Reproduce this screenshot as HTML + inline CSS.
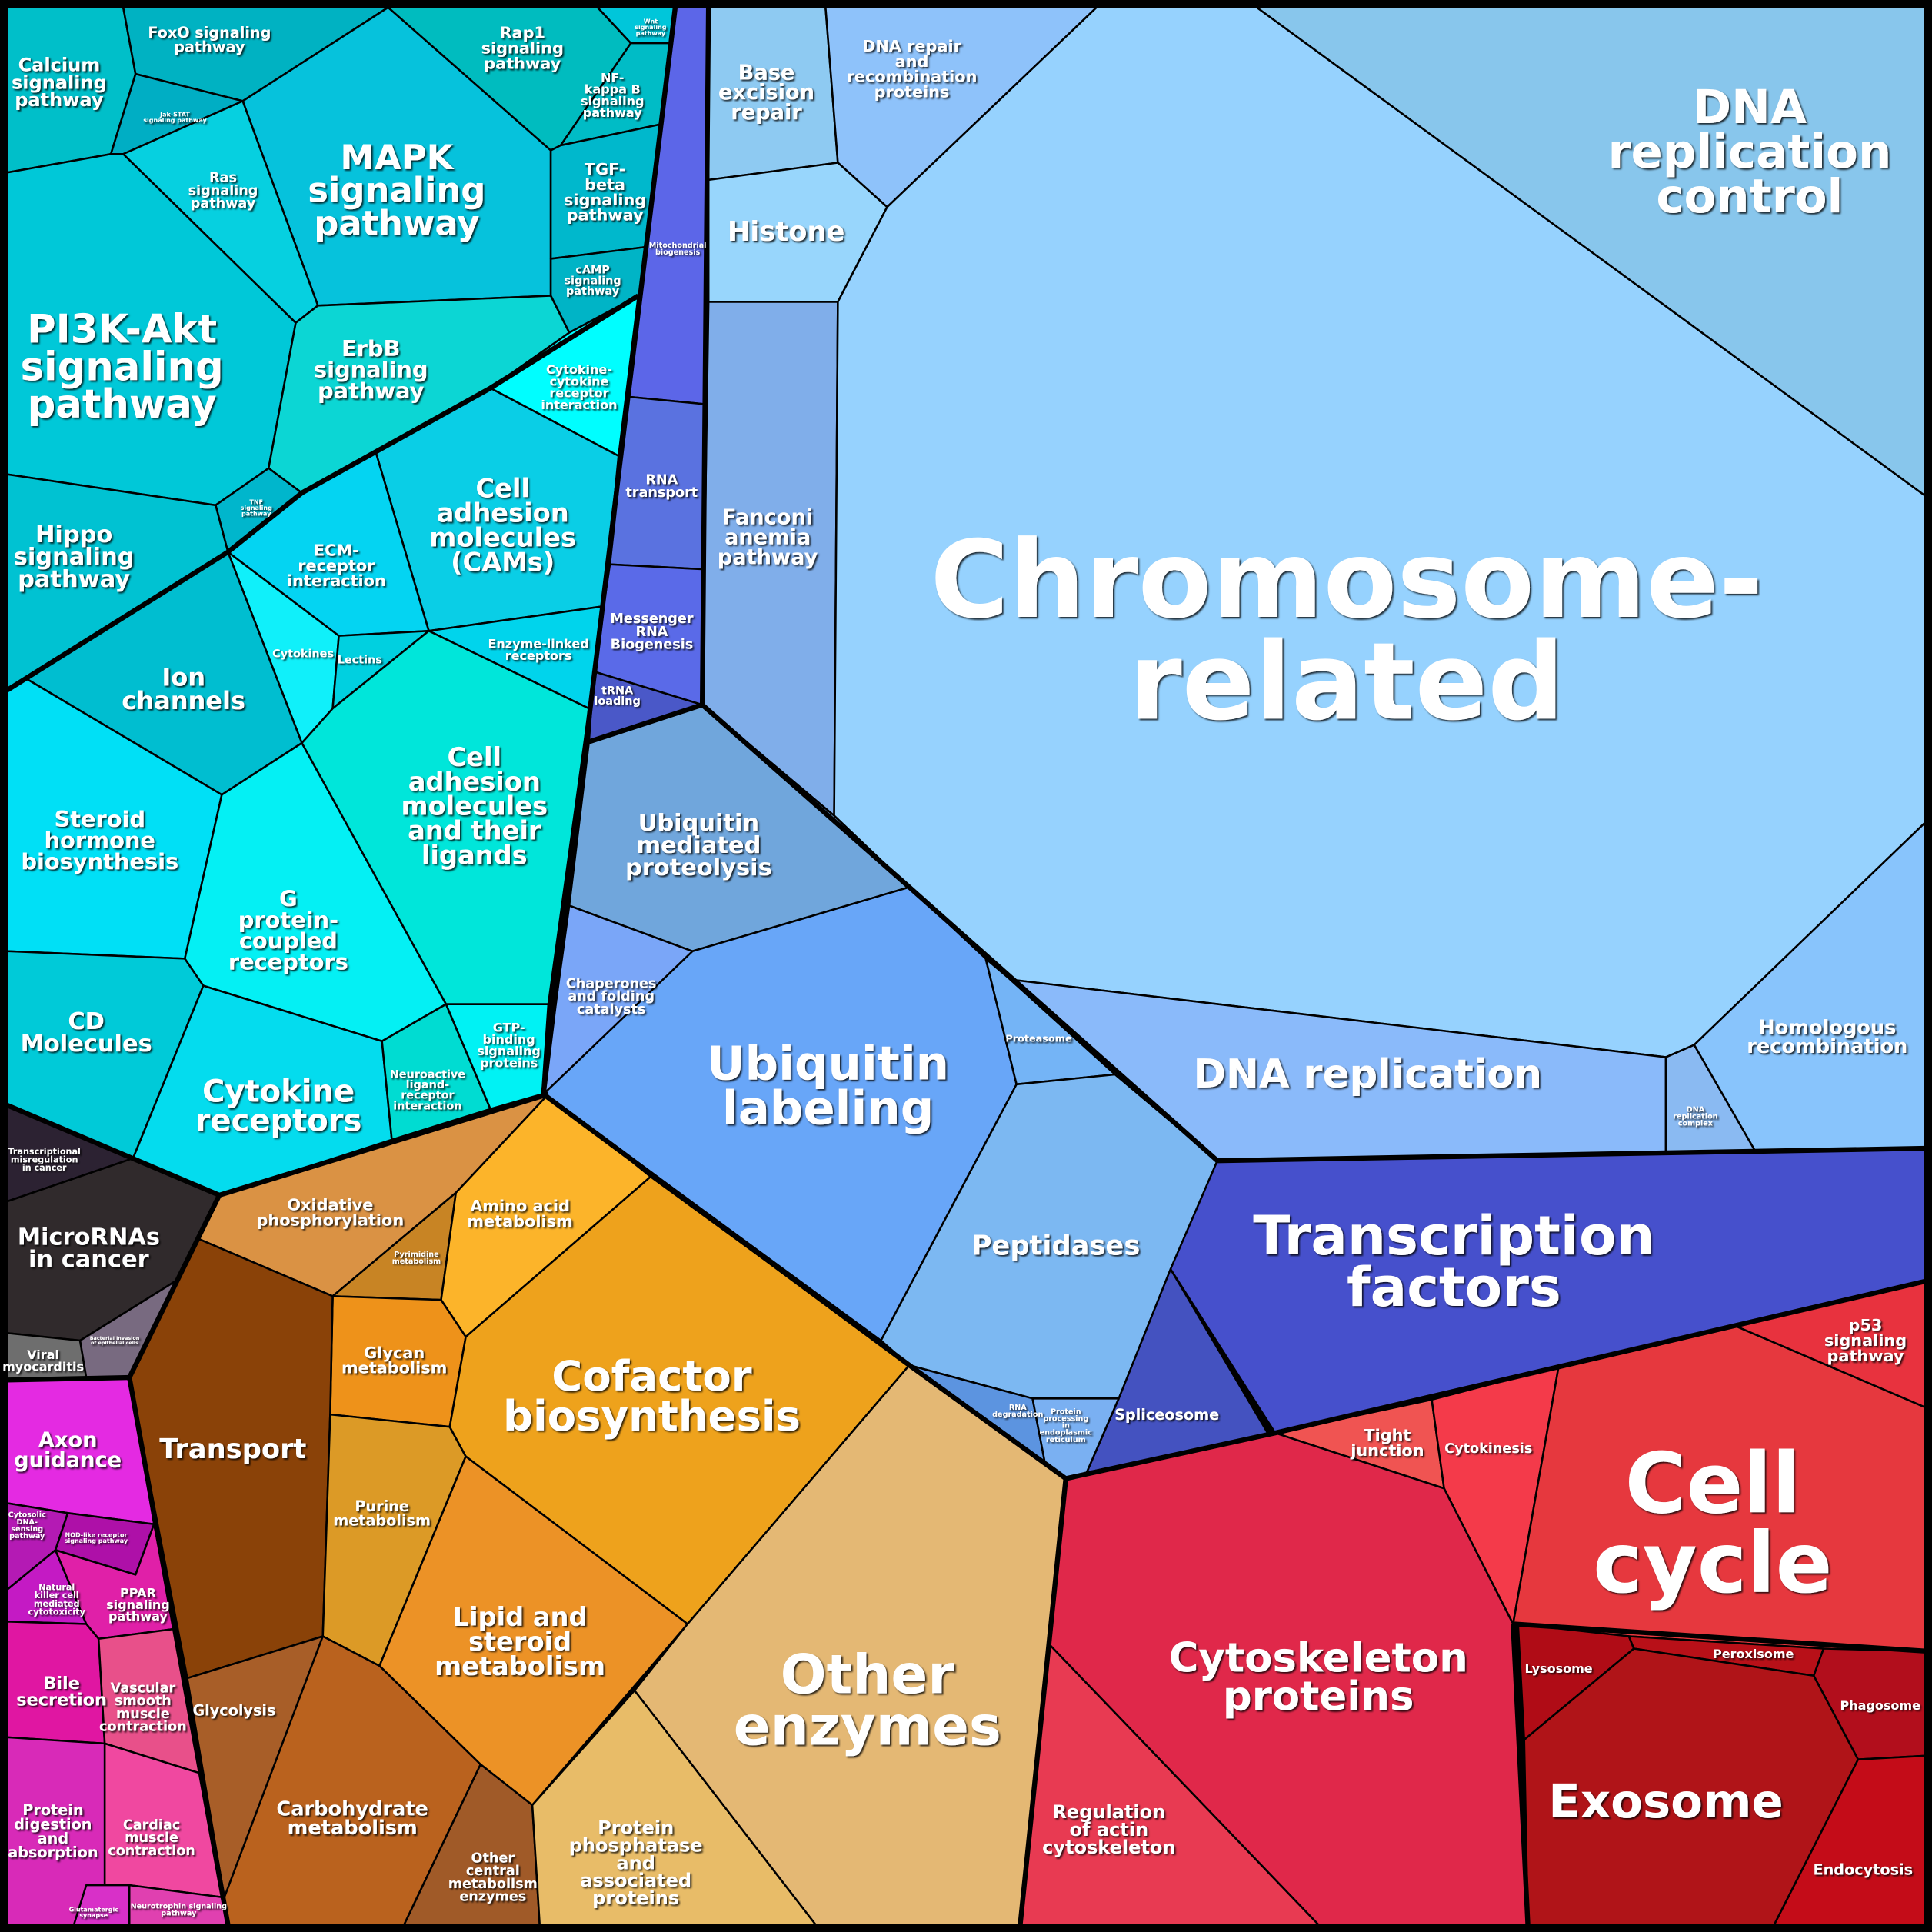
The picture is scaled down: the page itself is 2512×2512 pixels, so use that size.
<!DOCTYPE html>
<html><head><meta charset="utf-8">
<style>
html,body{margin:0;padding:0;background:#000;}
svg{display:block;}
text{font-family:"DejaVu Sans","Liberation Sans",sans-serif;font-weight:bold;fill:#fff;text-anchor:middle;dominant-baseline:central;}
</style></head>
<body>
<svg id="chart" width="2512" height="2512" viewBox="0 0 1568 1568" xmlns="http://www.w3.org/2000/svg">
<defs><filter id="sh" x="-20%" y="-20%" width="140%" height="140%"><feDropShadow dx="1.2" dy="1.2" stdDeviation="0.6" flood-color="#000" flood-opacity="0.8"/></filter></defs>
<rect x="0" y="0" width="1568" height="1568" fill="#000"/>
<g id="cells"></g>
<g id="thick"></g>
<g id="labels" filter="url(#sh)"></g>
</svg>
<script>
// cell names, colours and label texts (category data)
const cellNames = ["Calcium","FoxO","JAK-STAT","MAPK","Rap1","Wnt","NF-kB","TGF-beta","cAMP","Ras","PI3K-Akt","ErbB","Cytokine-cytokine","TNF","Hippo","CAMs","ECM","Cytokines","Lectins","Enzyme-linked","Ion channels","Steroid","CD","GPCR","CAM ligands","Cytokine receptors","Neuroactive","GTP-binding",
"Transcriptional misreg","MicroRNAs","Viral myocarditis","Bacterial",
"Axon","Cytosolic DNA","NOD","NK","PPAR","Bile","Vascular","Protein digestion","Cardiac","Glutamatergic","Neurotrophin",
"Oxidative","Pyrimidine","Amino acid","Glycan","Transport","Purine","Cofactor","Lipid","Glycolysis","Carbohydrate","Other central","Protein phosphatase","Other enzymes",
"Mito","RNA transport","mRNA","tRNA","Base excision","DNA repair","Histone","Fanconi","Chromosome","DNA rep control","Ubiq mediated","Chaperones","Ubiq labeling","Proteasome","Peptidases","RNA degradation","Protein processing","Spliceosome","DNA replication","DNA rep complex","Homologous","Transcription factors",
"p53","Tight junction","Cytokinesis","Cell cycle","Cytoskeleton","Reg actin","Lysosome","Peroxisome","Phagosome","Exosome","Endocytosis"];
const cellColors = ["#00bfc9","#00b2c2","#00aec4","#06c2dc","#00bcbf","#00c6da","#00bcc6","#00b8cc","#00b4c6","#06d0e0","#00c8d8","#0cd6d4","#00feff","#00b6cc","#00c2d2","#0acee6","#04d4f2","#10f0fa","#00d0e0","#00d4ec","#00bed0","#00e0f6","#00cad8","#04f0f4","#00e6da","#04dcee","#00dcd2","#00f2f4",
"#2c2232","#302a2c","#6e6e6e","#786a80",
"#e42ae2","#b41ab4","#ae10a8","#c41ac4","#e020a8","#e016a2","#e8508a","#d82ab8","#f048a0","#d830c8","#e040b0",
"#da9244","#c88424","#fcb42a","#ee921a","#8a4208","#dc9a26","#eea21c","#ec9226","#a85e28","#ba621e","#a05a28","#e8bc68","#e4b874",
"#5c66e8","#5a72e0","#5a6ae8","#4a58c8","#8ecaf2","#8ec2fa","#98d6fc","#80aeea","#96d2fe","#88c6ec","#70a6dc","#7aa6f8","#68a6f8","#74b4f6","#7cb8f2","#5c94e0","#7ab0f2","#4452c0","#8abafa","#8abaf2","#88c4fc","#4650cc",
"#e8323e","#f05452","#f43a4a","#e6383e","#e0284a","#e83a52","#b00c16","#b81018","#b20e1c","#b01418","#c40c18"];
const cellLabels = [["Calcium","signaling","pathway"],["FoxO signaling","pathway"],["Jak-STAT","signaling pathway"],["MAPK","signaling","pathway"],["Rap1","signaling","pathway"],["Wnt","signaling","pathway"],["NF-","kappa B","signaling","pathway"],["TGF-","beta","signaling","pathway"],["cAMP","signaling","pathway"],["Ras","signaling","pathway"],["PI3K-Akt","signaling","pathway"],["ErbB","signaling","pathway"],["Cytokine-","cytokine","receptor","interaction"],["TNF","signaling","pathway"],["Hippo","signaling","pathway"],["Cell","adhesion","molecules","(CAMs)"],["ECM-","receptor","interaction"],["Cytokines"],["Lectins"],["Enzyme-linked","receptors"],["Ion","channels"],["Steroid","hormone","biosynthesis"],["CD","Molecules"],["G","protein-","coupled","receptors"],["Cell","adhesion","molecules","and their","ligands"],["Cytokine","receptors"],["Neuroactive","ligand-","receptor","interaction"],["GTP-","binding","signaling","proteins"],
["Transcriptional","misregulation","in cancer"],["MicroRNAs","in cancer"],["Viral","myocarditis"],["Bacterial invasion","of epithelial cells"],
["Axon","guidance"],["Cytosolic","DNA-","sensing","pathway"],["NOD-like receptor","signaling pathway"],["Natural","killer cell","mediated","cytotoxicity"],["PPAR","signaling","pathway"],["Bile","secretion"],["Vascular","smooth","muscle","contraction"],["Protein","digestion","and","absorption"],["Cardiac","muscle","contraction"],["Glutamatergic","synapse"],["Neurotrophin signaling","pathway"],
["Oxidative","phosphorylation"],["Pyrimidine","metabolism"],["Amino acid","metabolism"],["Glycan","metabolism"],["Transport"],["Purine","metabolism"],["Cofactor","biosynthesis"],["Lipid and","steroid","metabolism"],["Glycolysis"],["Carbohydrate","metabolism"],["Other","central","metabolism","enzymes"],["Protein","phosphatase","and","associated","proteins"],["Other","enzymes"],
["Mitochondrial","biogenesis"],["RNA","transport"],["Messenger","RNA","Biogenesis"],["tRNA","loading"],["Base","excision","repair"],["DNA repair","and","recombination","proteins"],["Histone"],["Fanconi","anemia","pathway"],["Chromosome-","related"],["DNA","replication","control"],["Ubiquitin","mediated","proteolysis"],["Chaperones","and folding","catalysts"],["Ubiquitin","labeling"],["Proteasome"],["Peptidases"],["RNA","degradation"],["Protein","processing","in","endoplasmic","reticulum"],["Spliceosome"],["DNA replication"],["DNA","replication","complex"],["Homologous","recombination"],["Transcription","factors"],
["p53","signaling","pathway"],["Tight","junction"],["Cytokinesis"],["Cell","cycle"],["Cytoskeleton","proteins"],["Regulation","of actin","cytoskeleton"],["Lysosome"],["Peroxisome"],["Phagosome"],["Exosome"],["Endocytosis"]];
// layout geometry (Voronoi cells, label anchor + font size)
const geom = [
[[6,6],[100,6],[110,60],[90,125],[6,140]],[[100,6],[315,6],[197,82],[110,60]],[[110,60],[197,82],[100,125],[90,125]],[[197,82],[315,6],[447,122],[447,240],[258,248]],[[315,6],[485,6],[512,35],[455,118],[447,122]],[[485,6],[548,6],[545,35],[512,35]],[[512,35],[545,35],[540,100],[455,118]],[[447,122],[455,118],[540,100],[528,200],[447,210]],[[447,210],[528,200],[518,240],[462,270],[447,240]],[[100,125],[197,82],[258,248],[240,262]],[[6,140],[90,125],[100,125],[240,262],[218,380],[175,410],[6,385]],[[240,262],[258,248],[447,240],[462,270],[398,315],[245,400],[218,380]],[[398,315],[462,270],[518,240],[502,370]],[[175,410],[218,380],[245,400],[185,448]],[[6,385],[175,410],[185,448],[6,560]],[[305,367],[398,315],[502,370],[490,492],[348,512]],[[185,448],[245,400],[305,367],[348,512],[275,516]],[[185,448],[275,516],[270,575],[245,603]],[[275,516],[348,512],[270,575]],[[348,512],[490,492],[478,575]],[[20,550],[185,448],[245,603],[180,645]],[[6,560],[20,550],[180,645],[150,778],[6,772]],[[6,772],[150,778],[165,800],[108,940],[6,897]],[[180,645],[245,603],[362,815],[310,845],[165,800],[150,778]],[[245,603],[270,575],[348,512],[478,575],[445,815],[362,815]],[[165,800],[310,845],[318,925],[178,970],[108,940]],[[310,845],[362,815],[398,900],[318,925]],[[362,815],[445,815],[440,888],[398,900]],
[[6,897],[108,940],[6,975]],[[6,975],[108,940],[178,970],[150,1035],[65,1088],[6,1082]],[[6,1082],[65,1088],[70,1118],[6,1120]],[[65,1088],[150,1035],[105,1118],[70,1118]],
[[6,1120],[105,1118],[125,1237],[55,1228],[6,1220]],[[6,1220],[55,1228],[45,1258],[6,1290]],[[55,1228],[125,1237],[110,1278],[45,1258]],[[6,1290],[45,1258],[70,1318],[6,1316]],[[45,1258],[110,1278],[125,1237],[142,1322],[80,1330],[70,1318]],[[6,1316],[70,1318],[80,1330],[85,1415],[6,1410]],[[80,1330],[142,1322],[165,1440],[85,1415]],[[6,1410],[85,1415],[85,1530],[60,1562],[6,1562]],[[85,1415],[165,1440],[182,1540],[105,1530],[85,1530]],[[60,1562],[70,1530],[105,1530],[105,1562]],[[105,1530],[182,1540],[185,1562],[105,1562]],
[[178,970],[445,888],[370,968],[270,1052],[160,1005]],[[270,1052],[370,968],[358,1055]],[[370,968],[445,888],[528,955],[378,1085],[358,1055]],[[270,1052],[358,1055],[378,1085],[365,1158],[268,1148]],[[160,1005],[270,1052],[268,1148],[262,1328],[152,1362],[105,1118]],[[268,1148],[365,1158],[378,1182],[308,1352],[262,1328]],[[378,1085],[528,955],[738,1108],[558,1318],[378,1182],[365,1158]],[[378,1182],[558,1318],[432,1465],[390,1432],[308,1352]],[[152,1362],[262,1328],[185,1540],[182,1540]],[[262,1328],[308,1352],[390,1432],[328,1562],[185,1562],[182,1540]],[[390,1432],[432,1465],[438,1562],[328,1562]],[[432,1465],[515,1372],[662,1562],[438,1562]],[[558,1318],[738,1108],[865,1200],[828,1562],[662,1562],[515,1372]],
[[548,6],[575,6],[572,328],[510,322]],[[510,322],[572,328],[571,462],[495,458]],[[495,458],[571,462],[570,572],[482,545]],[[482,545],[570,572],[478,602]],[[575,6],[670,6],[680,132],[575,146]],[[670,6],[890,6],[720,168],[680,132]],[[575,146],[680,132],[720,168],[680,245],[575,245]],[[575,245],[680,245],[677,662],[570,572]],[[680,245],[720,168],[890,6],[1020,6],[1562,402],[1562,668],[1375,848],[1352,858],[820,795],[800,778],[738,720],[677,662]],[[1020,6],[1562,6],[1562,402]],[[478,602],[570,572],[677,662],[738,720],[562,772],[462,735]],[[462,735],[562,772],[502,932],[441,888]],[[562,772],[738,720],[800,778],[825,880],[715,1088],[502,932],[441,888]],[[800,778],[820,795],[905,872],[825,880]],[[825,880],[905,872],[988,942],[908,1135],[838,1135],[738,1108],[715,1088]],[[738,1108],[838,1135],[848,1187]],[[838,1135],[908,1135],[882,1195],[865,1200],[848,1187]],[[950,1030],[1030,1165],[882,1195],[908,1135]],[[820,795],[1352,858],[1352,935],[988,942],[905,872]],[[1352,858],[1375,848],[1425,935],[1352,935]],[[1375,848],[1562,668],[1562,932],[1425,935]],[[988,942],[1562,932],[1562,1040],[1408,1076],[1265,1109],[1162,1136],[1035,1163],[950,1030]],
[[1408,1076],[1562,1040],[1562,1142]],[[1035,1163],[1162,1136],[1172,1208]],[[1162,1136],[1265,1109],[1228,1318],[1172,1208]],[[1265,1109],[1408,1076],[1562,1142],[1562,1340],[1480,1338],[1322,1328],[1228,1318]],[[865,1200],[1035,1163],[1172,1208],[1228,1318],[1235,1410],[1240,1562],[1070,1562],[852,1335]],[[852,1335],[1070,1562],[828,1562]],[[1232,1318],[1322,1328],[1326,1338],[1237,1412]],[[1322,1328],[1480,1338],[1472,1360],[1326,1338]],[[1480,1338],[1562,1340],[1562,1425],[1508,1428],[1472,1360]],[[1237,1412],[1326,1338],[1472,1360],[1508,1428],[1440,1562],[1240,1562]],[[1508,1428],[1562,1425],[1562,1562],[1440,1562]]
];
const labelPos = [[48,67,15],[170,32,12],[142,95,5],[322,154,28],[424,39,13],[528,22,5],[497,77,10],[491,156,13],[481,228,9],[181,155,11],[99,298,32],[301,300,18],[470,314,10],[208,412,5],[60,452,19],[408,426,21],[273,459,13],[246,531,9],[292,536,9],[437,527,10],[149,559,20],[81,682,18],[70,838,19],[234,755,18],[385,654,21],[226,898,25],[347,885,9],[413,848,10],
[36,941,7],[72,1013,19],[35,1104,10],[93,1088,4],[55,1177,17],[22,1238,6],[78,1248,5],[46,1298,7],[112,1302,10],[50,1373,14],[116,1386,11],[43,1486,12],[123,1492,11],[76,1552,5],[145,1550,6],
[268,984,13],[338,1021,6],[422,985,13],[320,1104,13],[189,1176,22],[310,1228,12],[529,1133,34],[422,1332,21],[190,1388,12],[286,1476,16],[400,1524,11],[516,1512,15],[704,1380,44],
[550,202,6],[537,395,11],[529,513,11],[501,565,9],[622,75,17],[740,56,13],[638,188,22],[623,436,17],[1093,512,87],[1420,123,38],[567,686,19],[496,809,11],[672,881,38],[843,843,8],[857,1011,22],[826,1145,6],[865,1157,6],[947,1148,12],[1110,872,32],[1376,906,6],[1483,842,16],[1180,1024,44],
[1514,1088,13],[1126,1171,13],[1208,1176,11],[1390,1236,68],[1070,1361,33],[900,1485,15],[1265,1354,10],[1423,1342,10],[1526,1384,10],[1352,1462,38],[1512,1517,12]
];
const thickLines = [[[548,6],[441,888]],[[6,560],[185,448],[245,400],[398,315],[518,240]],[[6,897],[178,970],[445,888]],[[178,970],[105,1118],[185,1562]],[[6,1120],[105,1118]],[[441,888],[738,1108],[865,1200],[828,1562]],[[575,6],[570,572],[478,602]],[[570,572],[738,720],[988,942]],[[988,942],[1562,932]],[[865,1200],[1035,1163],[1562,1040]],[[1228,1318],[1562,1340]],[[1228,1318],[1240,1562]]];

const NS="http://www.w3.org/2000/svg";
const gc=document.getElementById('cells'), gt=document.getElementById('thick'), gl=document.getElementById('labels');
const slug=s=>s.toLowerCase().replace(/[^a-z0-9]+/g,'-').replace(/^-|-$/g,'');
cellNames.forEach((n,i)=>{
  const p=document.createElementNS(NS,'polygon');
  p.setAttribute('points',geom[i].map(q=>q.join(',')).join(' '));
  p.setAttribute('fill',cellColors[i]);
  p.setAttribute('stroke','#000');
  p.setAttribute('stroke-width','1.6');
  p.setAttribute('stroke-linejoin','round');
  
  
  gc.appendChild(p);
  const [cx,cy,fs]=labelPos[i], lines=cellLabels[i], lh=fs*0.95;
  const t=document.createElementNS(NS,'text');
  t.setAttribute('font-size',fs);
  
  
  lines.forEach((ln,k)=>{
    const s=document.createElementNS(NS,'tspan');
    s.setAttribute('x',cx);
    s.setAttribute('y',cy+(k-(lines.length-1)/2)*lh);
    s.textContent=ln;
    t.appendChild(s);
  });
  gl.appendChild(t);
});
thickLines.forEach((l,i)=>{
  const p=document.createElementNS(NS,'polyline');
  p.setAttribute('points',l.map(q=>q.join(',')).join(' '));
  p.setAttribute('fill','none');p.setAttribute('stroke','#000');p.setAttribute('stroke-width','4');
  p.setAttribute('stroke-linejoin','round');
  
  
  gt.appendChild(p);
});
const fr=document.createElementNS(NS,'rect');
fr.setAttribute('x',3);fr.setAttribute('y',3);fr.setAttribute('width',1562);fr.setAttribute('height',1562);
fr.setAttribute('fill','none');fr.setAttribute('stroke','#000');fr.setAttribute('stroke-width','6');


gt.appendChild(fr);
</script>
</body></html>
